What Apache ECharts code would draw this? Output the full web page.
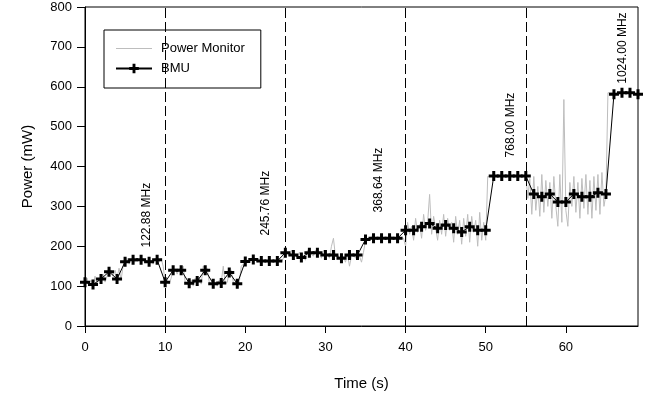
<!DOCTYPE html>
<html><head><meta charset="utf-8">
<script src="https://cdn.jsdelivr.net/npm/echarts@6/dist/echarts.min.js"></script>
<style>html,body{margin:0;padding:0;background:#fff}#c{width:650px;height:401px}</style>
</head><body><div id="c"></div>
<script>
// BMU samples, one per second (t = 0..69)
const bmuTime = [0,1,2,3,4,5,6,7,8,9,10,11,12,13,14,15,16,17,18,19,20,21,22,23,24,25,26,27,28,29,30,31,32,33,34,35,36,37,38,39,40,41,42,43,44,45,46,47,48,49,50,51,52,53,54,55,56,57,58,59,60,61,62,63,64,65,66,67,68,69];
const bmuPower = [110,104,118,136,118,161,166,166,161,166,110,140,140,107,113,140,106,108,134,106,162,167,163,163,163,184,178,172,184,184,178,178,170,178,178,217,220,220,220,220,240,240,249,257,245,253,245,236,249,240,240,376,376,376,376,376,331,324,331,311,311,331,324,324,334,331,581,585,585,581];
// Power Monitor samples, every 0.25 s starting at t = 0
const pmStart = 0, pmStep = 0.25;
const pmPower = [
105,120,100,115, 100,125,105,120, 115,130,110,125, 135,140,125,140, 120,145,115,150,
160,170,155,165, 165,160,170,165, 165,170,160,165, 160,165,155,170, 165,160,170,150,
110,115,105,120, 140,145,130,145, 140,150,110,105, 105,115,100,120, 110,120,105,150,
140,145,110,105, 105,110,100,115, 110,150,105,110, 135,140,110,105, 105,110,150,155,
160,165,160,165, 165,170,160,165, 160,165,165,160, 165,160,165,165, 160,165,160,170,
180,185,175,190, 175,180,170,185, 170,175,165,190, 185,180,175,190, 180,185,170,190,
175,180,170,200, 220,175,180,170, 165,175,160,180, 150,175,180,170, 180,175,160,185,
215,220,220,225, 220,218,222,220, 220,222,218,220, 220,225,218,220, 222,220,218,220,
200,260,230,250, 215,270,235,255, 220,280,240,260, 330,230,275,245, 215,265,230,280,
225,270,240,260, 210,275,230,265, 205,270,225,280, 210,275,235,265, 200,285,215,260,
215,375,375,375, 375,375,376,375, 375,374,376,375, 375,376,375,374, 375,375,376,375,
380,320,370,280, 375,290,350,275, 380,285,365,300, 360,270,375,300, 250,380,260,568,
290,250,360,300, 375,285,360,270, 370,295,380,280, 365,270,375,290, 380,280,385,300,
330,585,585,585, 585,583,586,584, 584,586,583,585, 585,584,586,583, 582
];
const freqTimes = [10,25,40,55];
const annoTime = [7.75,22.5,36.6,53.1,67.1];
const annoPower = [278,308,366,504,697];
const annoText = ['122.88 MHz','245.76 MHz','368.64 MHz','768.00 MHz','1024.00 MHz'];
const xTicks = [0,10,20,30,40,50,60];

const pmData = pmPower.map((v,i)=>[pmStart+i*pmStep, v]);
const bmuData = bmuTime.map((t,i)=>[t, bmuPower[i]]);
const plus = 'path://M3.5,0h3v3.5h3.5v3h-3.5v3.5h-3v-3.5h-3.5v-3h3.5z';
const font = 'Liberation Sans, Arial, sans-serif';

const chart = echarts.init(document.getElementById('c'), null, {renderer:'canvas'});
chart.setOption({
  animation:false,
  textStyle:{fontFamily:font,color:'#000'},
  grid:{left:85,right:12,top:7,bottom:75,show:true,borderColor:'#000',borderWidth:1,backgroundColor:'transparent'},
  legend:{
    orient:'vertical',left:104,top:30,
    padding:[12,16,13,11],itemGap:7,itemWidth:36,itemHeight:12,
    borderColor:'#000',borderWidth:1,borderRadius:0,
    textStyle:{fontFamily:font,fontSize:13,color:'#000',padding:[0,0,0,4]},
    data:[{name:'Power Monitor',icon:'path://M0,5h36v1h-36z'},{name:'BMU'}]
  },
  xAxis:{
    type:'value',min:0,max:69,interval:10,
    name:'Time (s)',nameLocation:'middle',nameGap:50,
    nameTextStyle:{fontSize:15,color:'#000',fontFamily:font},
    axisLine:{show:true,onZero:false,lineStyle:{color:'#000',width:1}},
    axisTick:{show:true,length:7,customValues:xTicks,lineStyle:{color:'#000',width:1}},
    axisLabel:{fontSize:13,color:'#000',margin:15,fontFamily:font,customValues:xTicks},
    splitLine:{show:false}
  },
  yAxis:{
    type:'value',min:0,max:800,interval:100,
    name:'Power (mW)',nameLocation:'middle',nameGap:50,
    nameTextStyle:{fontSize:15,color:'#000',fontFamily:font},
    axisLine:{show:true,onZero:false,lineStyle:{color:'#000',width:1}},
    axisTick:{show:true,length:8,lineStyle:{color:'#000',width:1}},
    axisLabel:{fontSize:13,color:'#000',margin:13,fontFamily:font},
    splitLine:{show:false}
  },
  series:[
    {name:'Power Monitor',type:'line',data:pmData,showSymbol:false,symbol:'none',
     lineStyle:{color:'#bdbdbd',width:1},itemStyle:{color:'#bdbdbd'},z:2},
    {name:'BMU',type:'line',data:bmuData,symbol:plus,symbolSize:10,
     lineStyle:{color:'#000',width:1},itemStyle:{color:'#000',borderWidth:0},z:3,
     markLine:{silent:true,symbol:'none',label:{show:false},
       lineStyle:{color:'#000',type:[10,4],width:1},
       data:freqTimes.map(t=>({xAxis:t}))}}
  ]
});
const g = annoText.map((s,i)=>{
  const p = chart.convertToPixel({gridIndex:0},[annoTime[i],annoPower[i]]);
  return {type:'text',x:p[0],y:p[1],rotation:Math.PI/2,z:10,
    style:{text:s,fontSize:12,fontFamily:font,fill:'#000',align:'center',verticalAlign:'middle'}};
});
chart.setOption({graphic:g});
</script></body></html>
